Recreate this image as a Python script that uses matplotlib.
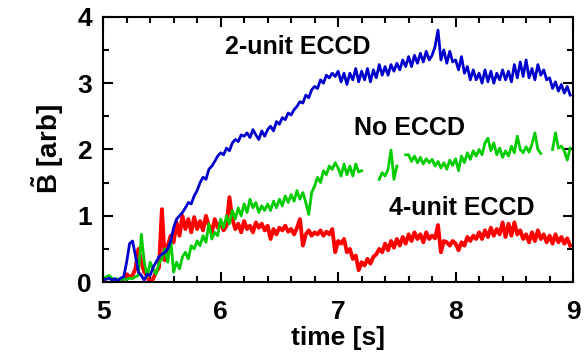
import numpy as np
import matplotlib
matplotlib.use("Agg")
from matplotlib import pyplot as plt
from matplotlib.ticker import MultipleLocator

plt.rcParams['font.family'] = ['Liberation Sans', 'DejaVu Sans']
plt.rcParams['font.weight'] = 'bold'
plt.rcParams['mathtext.fontset'] = 'custom'
plt.rcParams['mathtext.bf'] = 'Liberation Sans:bold'
plt.rcParams['mathtext.rm'] = 'Liberation Sans:bold'

nan = np.nan

# sample times, 0.025 s apart
time = np.arange(160) * 0.025 + 5.0

eccd_2unit = [
    0.05, 0.04, 0.06, 0.03, 0.05, 0.02, 0.06, 0.08,
    0.30, 0.58, 0.62, 0.40, 0.15, 0.10, 0.03, 0.12,
    0.10, 0.22, 0.30, 0.38, 0.42, 0.45, 0.50, 0.62,
    0.82, 0.95, 1.00, 1.05, 1.12, 1.20, 1.18, 1.30,
    1.38, 1.50, 1.58, 1.55, 1.70, 1.75, 1.82, 1.90,
    1.95, 1.92, 2.02, 1.98, 2.10, 2.15, 2.12, 2.22,
    2.20, 2.25, 2.18, 2.30, 2.22, 2.15, 2.28, 2.20,
    2.30, 2.35, 2.28, 2.42, 2.38, 2.48, 2.45, 2.55,
    2.52, 2.60, 2.65, 2.72, 2.70, 2.82, 2.78, 2.90,
    2.95, 2.92, 3.05, 3.00, 3.12, 3.08, 3.15, 3.10,
    3.18, 3.02, 3.15, 2.98, 3.15, 3.05, 3.22, 3.02,
    3.18, 3.05, 3.22, 3.02, 3.20, 3.08, 3.28, 3.12,
    3.25, 3.12, 3.28, 3.18, 3.30, 3.20, 3.35, 3.25,
    3.40, 3.25, 3.42, 3.30, 3.45, 3.32, 3.48, 3.35,
    3.42, 3.55, 3.80, 3.35, 3.50, 3.30, 3.48, 3.32,
    3.35, 3.20, 3.40, 3.15, 3.25, 3.05, 3.20, 3.05,
    3.15, 3.00, 3.20, 3.02, 3.18, 3.00, 3.15, 3.05,
    3.20, 3.05, 3.18, 3.02, 3.28, 3.08, 3.32, 3.10,
    3.35, 3.08, 3.22, 3.05, 3.28, 3.12, 3.20, 3.05,
    3.08, 2.92, 3.02, 2.88, 2.98, 2.85, 2.95, 2.82,
]

no_eccd = [
    0.05, 0.08, 0.10, 0.06, 0.04, 0.05, 0.03, 0.05,
    0.04, 0.06, 0.05, 0.08, 0.10, 0.72, 0.30, 0.08,
    0.30, 0.20, 0.12, 0.28, 0.35, 0.50, 0.30, 0.65,
    0.15, 0.30, 0.20, 0.38, 0.45, 0.35, 0.55, 0.50,
    0.62, 0.55, 0.70, 0.60, 0.88, 0.65, 0.75, 0.70,
    0.95, 0.82, 1.00, 0.88, 1.08, 0.95, 1.12, 1.00,
    1.18, 1.05, 1.25, 1.12, 1.20, 1.05, 1.15, 1.08,
    1.18, 1.08, 1.22, 1.12, 1.25, 1.15, 1.30, 1.20,
    1.32, 1.22, 1.38, 1.25, 1.35, 1.20, 1.02, 1.35,
    1.45, 1.58, 1.50, 1.68, 1.62, 1.75, 1.70, 1.80,
    1.72, 1.60, 1.78, 1.62, 1.75, 1.60, 1.78, 1.66,
    1.68, nan, nan, nan, nan, nan, 1.55, 1.65,
    1.60, 1.70, 1.99, 1.55, 1.75, nan, nan, 1.92,
    1.92, 1.82, 1.90, 1.80, 1.88, 1.78, 1.86, 1.80,
    1.85, 1.75, 1.82, 1.72, 1.80, 1.70, 1.84, 1.76,
    1.86, 1.68, 1.90, 1.80, 1.95, 1.85, 1.98, 1.90,
    2.00, 1.92, 2.10, 2.17, 1.98, 2.10, 1.92, 2.02,
    1.88, 1.98, 1.90, 2.05, 1.95, 2.20, 2.00, 1.95,
    2.04, 1.96, 2.08, 2.25, 2.00, 1.94, nan, nan,
    nan, 2.00, 2.25, 2.02, 2.05, 1.98, 1.84, 2.02,
]

eccd_4unit = [
    0.02, -0.02, -0.03, -0.03, 0.00, -0.02, 0.02, 0.05,
    0.12, 0.08, 0.10, 0.20, 0.50, 0.30, 0.15, 0.10,
    -0.02, 0.05, 0.15, 0.22, 1.10, 0.33, 0.55, 0.70,
    0.60, 0.90, 0.70, 1.00, 0.80, 0.95, 0.75, 0.98,
    0.80, 0.92, 0.78, 1.00, 0.85, 0.75, 0.95, 0.82,
    0.90, 0.78, 0.85, 1.28, 0.95, 0.80, 0.88, 0.75,
    0.92, 0.80, 0.85, 0.75, 0.90, 0.82, 0.88, 0.78,
    0.85, 0.65, 0.80, 0.72, 0.82, 0.78, 0.85, 0.76,
    0.80, 0.72, 0.82, 0.95, 0.55, 0.72, 0.78, 0.70,
    0.75, 0.72, 0.78, 0.70, 0.76, 0.72, 0.80, 0.45,
    0.62, 0.58, 0.65, 0.45, 0.50, 0.35, 0.40, 0.18,
    0.30, 0.25, 0.35, 0.28, 0.38, 0.42, 0.50, 0.45,
    0.58, 0.48, 0.62, 0.52, 0.65, 0.55, 0.68, 0.58,
    0.72, 0.62, 0.75, 0.65, 0.72, 0.60, 0.75, 0.65,
    0.70, 0.66, 0.86, 0.45, 0.62, 0.60, 0.55, 0.62,
    0.58, 0.48, 0.60, 0.55, 0.68, 0.62, 0.70, 0.65,
    0.75, 0.65, 0.78, 0.68, 0.82, 0.70, 0.80, 0.72,
    0.90, 0.68, 0.88, 0.70, 0.90, 0.72, 0.78, 0.65,
    0.72, 0.60, 0.75, 0.62, 0.78, 0.65, 0.72, 0.60,
    0.70, 0.58, 0.72, 0.60, 0.68, 0.58, 0.66, 0.55,
]

fig = plt.figure(figsize=(5.86, 3.58), dpi=100)
ax = fig.add_axes([0.176, 0.212, 0.802, 0.741])

ax.plot(time, eccd_4unit, color='#ff0000', lw=2.8)
ax.plot(time, no_eccd, color='#00cc00', lw=2.0)
ax.plot(time, eccd_2unit, color='#0000cc', lw=2.0)

ax.text(6.66, 3.54, '2-unit ECCD', fontsize=18, fontweight='bold', ha='center', va='center')
ax.text(7.61, 2.32, 'No ECCD', fontsize=18, fontweight='bold', ha='center', va='center')
ax.text(8.05, 1.12, '4-unit ECCD', fontsize=18, fontweight='bold', ha='center', va='center')

ax.set_xlim(5, 9)
ax.set_ylim(0, 4)
ax.xaxis.set_major_locator(MultipleLocator(1))
ax.xaxis.set_minor_locator(MultipleLocator(0.2))
ax.yaxis.set_major_locator(MultipleLocator(1))
ax.yaxis.set_minor_locator(MultipleLocator(0.5))
ax.tick_params(which='both', direction='in', top=True, right=True, width=1.5)
ax.tick_params(which='major', length=7, labelsize=19)
ax.tick_params(axis='x', which='major', pad=13)
ax.tick_params(axis='y', which='major', pad=8)
ax.tick_params(which='minor', length=4)
for s in ax.spines.values():
    s.set_linewidth(1.5)

ax.set_xlabel('time [s]', fontsize=19, fontweight='bold', labelpad=1)
ax.set_ylabel(r'$\tilde{\mathbf{B}}$ [arb]', fontsize=20, fontweight='bold', labelpad=8)

fig.savefig('out.png', dpi=100)
